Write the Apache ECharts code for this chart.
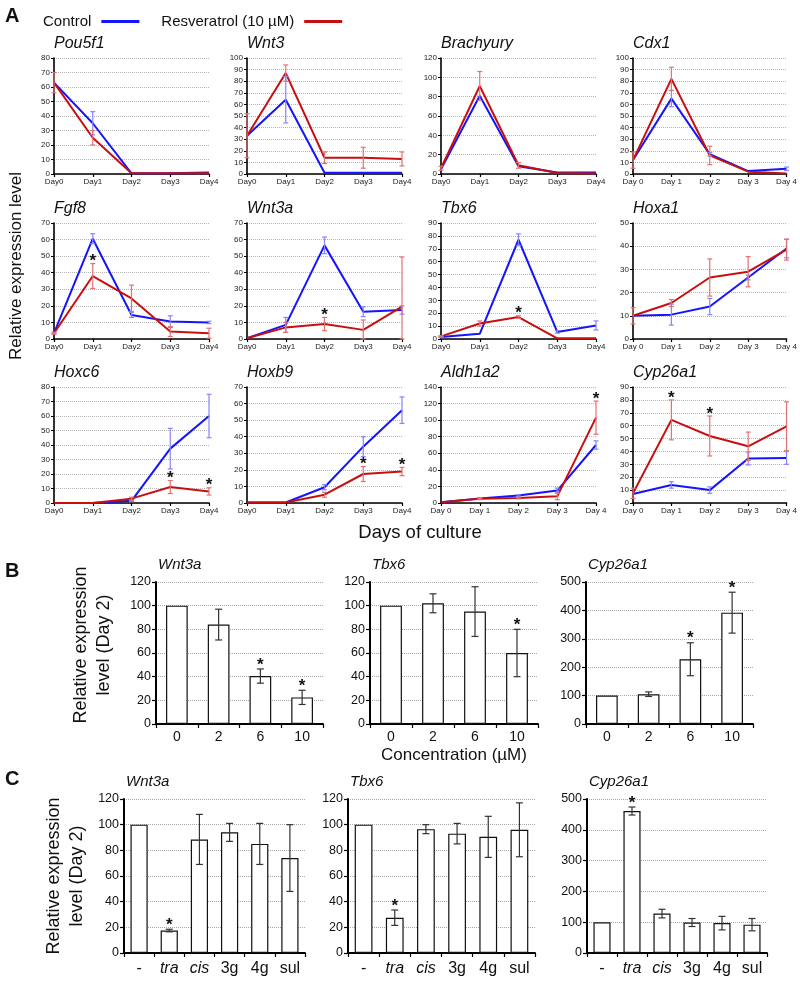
<!DOCTYPE html>
<html><head><meta charset="utf-8">
<script src="https://cdn.jsdelivr.net/npm/echarts@6/dist/echarts.min.js"></script>
<style>html,body{margin:0;padding:0;background:#fff}#c{width:800px;height:981px}</style>
</head><body><div id="c"></div>
<script>
const FONT = 'Liberation Sans, Arial, Helvetica, sans-serif';

// ---------- Panel A data ----------
const days = ['Day0', 'Day1', 'Day2', 'Day3', 'Day4'];
const daysSpaced = ['Day 0', 'Day 1', 'Day 2', 'Day 3', 'Day 4'];

const pou5f1Ctrl = [63, 35, 0.5, 0.5, 1];
const pou5f1CtrlErr = [0, 8, 0, 0, 0];
const pou5f1Res = [63, 25, 0.5, 0.5, 0.5];
const pou5f1ResErr = [7, 5, 0, 0, 0];
const pou5f1Stars = [];

const wnt3Ctrl = [33, 64, 1, 1, 1];
const wnt3CtrlErr = [0, 20, 0, 0, 0];
const wnt3Res = [33, 87, 14, 14, 13];
const wnt3ResErr = [19, 7, 5, 9, 6];
const wnt3Stars = [];

const brachyuryCtrl = [5, 81, 8, 1.5, 1.5];
const brachyuryCtrlErr = [0, 0, 0, 0, 0];
const brachyuryRes = [6, 91, 9, 1, 0.5];
const brachyuryResErr = [2, 15, 3, 0, 0];
const brachyuryStars = [];

const cdx1Ctrl = [12, 65, 17, 2.5, 4.5];
const cdx1CtrlErr = [0, 7, 1.5, 0, 1.5];
const cdx1Res = [12, 82, 16, 2, 0.5];
const cdx1ResErr = [7, 10, 8, 0, 0];
const cdx1Stars = [];

const fgf8Ctrl = [3.5, 60.5, 14.5, 10.5, 10];
const fgf8CtrlErr = [0.5, 3, 1.5, 3.5, 0.7];
const fgf8Res = [3.5, 38, 24.5, 4.5, 3.5];
const fgf8ResErr = [0.5, 7.5, 8, 3, 3];
const fgf8Stars = [1];

const wnt3aCtrl = [0.5, 8.5, 56.5, 16.5, 17.5];
const wnt3aCtrlErr = [0, 4.5, 5, 3, 2.5];
const wnt3aRes = [0.5, 7, 9, 5.5, 19.5];
const wnt3aResErr = [0, 3, 4, 6, 30];
const wnt3aStars = [2];

const tbx6Ctrl = [1.5, 4, 77, 5.5, 10.5];
const tbx6CtrlErr = [0.5, 0, 4.5, 1, 3.5];
const tbx6Res = [2, 12, 17, 0.5, 0.5];
const tbx6ResErr = [0.5, 2, 1, 0, 0];
const tbx6Stars = [2];

const hoxa1Ctrl = [10, 10.5, 14, 26.5, 39];
const hoxa1CtrlErr = [0, 4.5, 3.5, 1, 4];
const hoxa1Res = [10, 15.5, 26.5, 29, 38.5];
const hoxa1ResErr = [3.5, 1.5, 8, 6.5, 4.5];
const hoxa1Stars = [];

const hoxc6Ctrl = [0, 0, 1.5, 37.5, 60];
const hoxc6CtrlErr = [0, 0, 0.5, 14, 15];
const hoxc6Res = [0, 0, 3, 11, 8];
const hoxc6ResErr = [0, 0, 1, 4.5, 2.5];
const hoxc6Stars = [3, 4];

const hoxb9Ctrl = [0.3, 0.3, 9.5, 34, 56];
const hoxb9CtrlErr = [0, 0, 1.5, 6, 8];
const hoxb9Res = [0.3, 0.3, 5, 17.5, 19];
const hoxb9ResErr = [0, 0, 1.5, 4.5, 2.5];
const hoxb9Stars = [3, 4];

const aldh1a2Ctrl = [1, 5.5, 9, 15, 70];
const aldh1a2CtrlErr = [0, 1, 1, 3, 5];
const aldh1a2Res = [1, 5, 6, 8, 103];
const aldh1a2ResErr = [0, 1, 1, 4, 20];
const aldh1a2Stars = [4];

const cyp26a1Ctrl = [7, 14, 10, 34.5, 35];
const cyp26a1CtrlErr = [0, 2.5, 2.5, 5, 5];
const cyp26a1Res = [7.5, 64.5, 52, 44, 59.5];
const cyp26a1ResErr = [4, 15.5, 15.5, 11, 19];
const cyp26a1Stars = [1, 2];

// ---------- Panel B data ----------
const concentrations = ['0', '2', '6', '10'];
const bWnt3a = [100, 84, 40.5, 22.5];
const bWnt3aErr = [0, 13, 6, 6];
const bWnt3aStars = [2, 3];
const bTbx6 = [100, 102, 95, 60];
const bTbx6Err = [0, 8, 21, 20];
const bTbx6Stars = [3];
const bCyp26a1 = [100, 105, 228, 392];
const bCyp26a1Err = [0, 8, 58, 72];
const bCyp26a1Stars = [2, 3];

// ---------- Panel C data ----------
const compounds = ['-', 'tra', 'cis', '3g', '4g', 'sul'];
const italicCompounds = ['tra', 'cis'];
const cWnt3a = [100, 17.5, 88.5, 94, 85, 74];
const cWnt3aErr = [0, 1, 19.5, 7, 16, 26];
const cWnt3aStars = [1];
const cTbx6 = [100, 27.5, 96.5, 93, 90.5, 96];
const cTbx6Err = [0, 6, 3.5, 8, 16, 21];
const cTbx6Stars = [1];
const cCyp26a1 = [100, 461, 128, 99, 97, 92];
const cCyp26a1Err = [0, 13, 14, 13, 22, 20];
const cCyp26a1Stars = [1];

// ---------- building ----------
const BLUE = '#1414ff', RED = '#c80f0f', BLUE_E = '#8585ff', RED_E = '#e27272';
const grids = [], xAxes = [], yAxes = [], series = [], titles = [];

function errSeries(gi, vals, errs, color, capHalf, lw) {
  return {
    type: 'custom', xAxisIndex: gi, yAxisIndex: gi, silent: true, z: 4,
    data: vals.map((v, i) => [i, v, errs[i]]),
    renderItem: (params, api) => {
      const x = api.value(0), v = api.value(1), e = api.value(2);
      if (!e) return { type: 'group', children: [] };
      const t = api.coord([x, v + e]);
      const b = api.coord([x, Math.max(v - e, 0)]);
      const st = { stroke: color, lineWidth: lw };
      return { type: 'group', children: [
        { type: 'line', shape: { x1: t[0], y1: t[1], x2: b[0], y2: b[1] }, style: st },
        { type: 'line', shape: { x1: t[0] - capHalf, y1: t[1], x2: t[0] + capHalf, y2: t[1] }, style: st },
        { type: 'line', shape: { x1: b[0] - capHalf, y1: b[1], x2: b[0] + capHalf, y2: b[1] }, style: st }
      ]};
    }
  };
}

function starSeries(gi, idx, vals, errs, fontSize, gap) {
  return {
    type: 'custom', xAxisIndex: gi, yAxisIndex: gi, silent: true, z: 6,
    data: idx.map(i => [i, vals[i] + errs[i]]),
    renderItem: (params, api) => {
      const p = api.coord([api.value(0), api.value(1)]);
      return { type: 'text', x: p[0], y: p[1] - gap,
        style: { text: '*', fontSize: fontSize, fontFamily: FONT, fontWeight: 'bold', fill: '#111', align: 'center', verticalAlign: 'middle' } };
    }
  };
}

function addLinePanel(p) {
  const gi = grids.length;
  grids.push({ left: p.left, top: p.top, width: p.width, height: 116 });
  xAxes.push({
    type: 'category', gridIndex: gi, data: p.cats, boundaryGap: false,
    axisLine: { lineStyle: { color: '#000', width: 1.6 } },
    axisTick: { show: true, length: 3, interval: 0, lineStyle: { color: '#000', width: 1.2 } },
    axisLabel: { fontSize: 8, color: '#222', margin: 4, fontFamily: FONT, interval: 0 },
    splitLine: { show: false }
  });
  yAxes.push({
    type: 'value', gridIndex: gi, min: 0, max: p.max, interval: p.interval,
    axisLine: { show: true, lineStyle: { color: '#000', width: 1.6 } },
    axisTick: { show: true, length: 3, lineStyle: { color: '#000', width: 1 } },
    axisLabel: { fontSize: 8, color: '#222', margin: 4, fontFamily: FONT },
    splitLine: { show: true, lineStyle: { type: 'dotted', color: '#b4b4b4', width: 1 } }
  });
  titles.push({ text: p.title, left: p.left, top: p.top - 22, padding: 0,
    textStyle: { fontFamily: FONT, fontStyle: 'italic', fontWeight: 'normal', fontSize: 16, color: '#111' } });
  series.push({ type: 'line', name: 'Control', xAxisIndex: gi, yAxisIndex: gi, data: p.ctrl,
    symbol: 'none', lineStyle: { color: BLUE, width: 2 }, itemStyle: { color: BLUE }, z: 2, animation: false });
  series.push({ type: 'line', name: 'Resveratrol (10 µM)', xAxisIndex: gi, yAxisIndex: gi, data: p.res,
    symbol: 'none', lineStyle: { color: RED, width: 2 }, itemStyle: { color: RED }, z: 3, animation: false });
  series.push(errSeries(gi, p.ctrl, p.ctrlErr, BLUE_E, 2.5, 1.2));
  series.push(errSeries(gi, p.res, p.resErr, RED_E, 2.5, 1.2));
  if (p.stars.length) series.push(starSeries(gi, p.stars, p.res, p.resErr, 17, 2));
}

function addBarPanel(p) {
  const gi = grids.length;
  grids.push({ left: p.left, top: p.top, width: p.width, height: p.height });
  xAxes.push({
    type: 'category', gridIndex: gi, data: p.cats, boundaryGap: true,
    axisLine: { lineStyle: { color: '#000', width: 2 } },
    axisTick: { show: true, length: 4, interval: 0, lineStyle: { color: '#000', width: 1.2 } },
    axisLabel: {
      fontSize: p.labelSize, color: '#111', margin: p.labelMargin, fontFamily: FONT, interval: 0,
      formatter: v => italicCompounds.includes(v) ? '{i|' + v + '}' : v,
      rich: { i: { fontStyle: 'italic', fontSize: p.labelSize, fontFamily: FONT, color: '#111' } }
    },
    splitLine: { show: false }
  });
  yAxes.push({
    type: 'value', gridIndex: gi, min: 0, max: p.max, interval: p.interval,
    axisLine: { show: true, lineStyle: { color: '#000', width: 2 } },
    axisTick: { show: true, length: 4, lineStyle: { color: '#000', width: 1.2 } },
    axisLabel: { fontSize: 12.5, color: '#111', margin: 5, fontFamily: FONT },
    splitLine: { show: true, lineStyle: { type: 'dotted', color: '#a8a8a8', width: 1 } }
  });
  titles.push({ text: p.title, left: p.left + p.titleDx, top: p.top - 25, padding: 0,
    textStyle: { fontFamily: FONT, fontStyle: 'italic', fontWeight: 'normal', fontSize: 15, color: '#111' } });
  series.push({ type: 'bar', xAxisIndex: gi, yAxisIndex: gi, data: p.vals, barWidth: p.barWidth,
    itemStyle: { color: '#fff', borderColor: '#111', borderWidth: 1.2 }, z: 2, animation: false });
  series.push(errSeries(gi, p.vals, p.errs, '#333', 3.5, 1.2));
  if (p.stars.length) series.push(starSeries(gi, p.stars, p.vals, p.errs, 17, 4));
}

const colLeft = [54, 247, 441, 633];
const rowTop = [58, 223, 387];
const colW = 155;

[
  { title: 'Pou5f1', cats: days, max: 80, interval: 10, ctrl: pou5f1Ctrl, ctrlErr: pou5f1CtrlErr, res: pou5f1Res, resErr: pou5f1ResErr, stars: pou5f1Stars, r: 0, c: 0 },
  { title: 'Wnt3', cats: days, max: 100, interval: 10, ctrl: wnt3Ctrl, ctrlErr: wnt3CtrlErr, res: wnt3Res, resErr: wnt3ResErr, stars: wnt3Stars, r: 0, c: 1 },
  { title: 'Brachyury', cats: days, max: 120, interval: 20, ctrl: brachyuryCtrl, ctrlErr: brachyuryCtrlErr, res: brachyuryRes, resErr: brachyuryResErr, stars: brachyuryStars, r: 0, c: 2 },
  { title: 'Cdx1', cats: daysSpaced, max: 100, interval: 10, ctrl: cdx1Ctrl, ctrlErr: cdx1CtrlErr, res: cdx1Res, resErr: cdx1ResErr, stars: cdx1Stars, r: 0, c: 3 },
  { title: 'Fgf8', cats: days, max: 70, interval: 10, ctrl: fgf8Ctrl, ctrlErr: fgf8CtrlErr, res: fgf8Res, resErr: fgf8ResErr, stars: fgf8Stars, r: 1, c: 0 },
  { title: 'Wnt3a', cats: days, max: 70, interval: 10, ctrl: wnt3aCtrl, ctrlErr: wnt3aCtrlErr, res: wnt3aRes, resErr: wnt3aResErr, stars: wnt3aStars, r: 1, c: 1 },
  { title: 'Tbx6', cats: days, max: 90, interval: 10, ctrl: tbx6Ctrl, ctrlErr: tbx6CtrlErr, res: tbx6Res, resErr: tbx6ResErr, stars: tbx6Stars, r: 1, c: 2 },
  { title: 'Hoxa1', cats: daysSpaced, max: 50, interval: 10, ctrl: hoxa1Ctrl, ctrlErr: hoxa1CtrlErr, res: hoxa1Res, resErr: hoxa1ResErr, stars: hoxa1Stars, r: 1, c: 3 },
  { title: 'Hoxc6', cats: days, max: 80, interval: 10, ctrl: hoxc6Ctrl, ctrlErr: hoxc6CtrlErr, res: hoxc6Res, resErr: hoxc6ResErr, stars: hoxc6Stars, r: 2, c: 0 },
  { title: 'Hoxb9', cats: days, max: 70, interval: 10, ctrl: hoxb9Ctrl, ctrlErr: hoxb9CtrlErr, res: hoxb9Res, resErr: hoxb9ResErr, stars: hoxb9Stars, r: 2, c: 1 },
  { title: 'Aldh1a2', cats: daysSpaced, max: 140, interval: 20, ctrl: aldh1a2Ctrl, ctrlErr: aldh1a2CtrlErr, res: aldh1a2Res, resErr: aldh1a2ResErr, stars: aldh1a2Stars, r: 2, c: 2 },
  { title: 'Cyp26a1', cats: daysSpaced, max: 90, interval: 10, ctrl: cyp26a1Ctrl, ctrlErr: cyp26a1CtrlErr, res: cyp26a1Res, resErr: cyp26a1ResErr, stars: cyp26a1Stars, r: 2, c: 3 }
].forEach(p => addLinePanel(Object.assign(p, { left: colLeft[p.c], top: rowTop[p.r], width: colW })));

[
  { title: 'Wnt3a', vals: bWnt3a, errs: bWnt3aErr, stars: bWnt3aStars, max: 120, interval: 20, left: 156, width: 167 },
  { title: 'Tbx6', vals: bTbx6, errs: bTbx6Err, stars: bTbx6Stars, max: 120, interval: 20, left: 370, width: 168 },
  { title: 'Cyp26a1', vals: bCyp26a1, errs: bCyp26a1Err, stars: bCyp26a1Stars, max: 500, interval: 100, left: 586, width: 167 }
].forEach(p => addBarPanel(Object.assign(p, { cats: concentrations, top: 582, height: 142, barWidth: '52%', labelSize: 14, labelMargin: 6, titleDx: 2 })));

[
  { title: 'Wnt3a', vals: cWnt3a, errs: cWnt3aErr, stars: cWnt3aStars, max: 120, interval: 20, left: 124, width: 181 },
  { title: 'Tbx6', vals: cTbx6, errs: cTbx6Err, stars: cTbx6Stars, max: 120, interval: 20, left: 348, width: 187 },
  { title: 'Cyp26a1', vals: cCyp26a1, errs: cCyp26a1Err, stars: cCyp26a1Stars, max: 500, interval: 100, left: 587, width: 180 }
].forEach(p => addBarPanel(Object.assign(p, { cats: compounds, top: 799, height: 154, barWidth: '57%', labelSize: 16, labelMargin: 8, titleDx: 2 })));

const txt = (text, x, y, size, extra) => Object.assign({ type: 'text', x: x, y: y,
  style: Object.assign({ text: text, fontSize: size, fontFamily: FONT, fill: '#111', align: 'center', verticalAlign: 'middle' }, extra || {}) });

const graphics = [
  txt('A', 5, 16, 20, { fontWeight: 'bold', align: 'left' }),
  txt('B', 5, 571, 20, { fontWeight: 'bold', align: 'left' }),
  txt('C', 5, 779, 20, { fontWeight: 'bold', align: 'left' }),
  Object.assign(txt('Relative expression level', 16, 266, 17), { rotation: Math.PI / 2 }),
  txt('Days of culture', 420, 533, 18.5),
  txt('Concentration (µM)', 454, 755, 17),
  Object.assign(txt('Relative expression\nlevel (Day 2)', 93, 645, 18, { lineHeight: 23 }), { rotation: Math.PI / 2 }),
  Object.assign(txt('Relative expression\nlevel (Day 2)', 66, 876, 18, { lineHeight: 23 }), { rotation: Math.PI / 2 })
];

const chart = echarts.init(document.getElementById('c'));
chart.setOption({
  animation: false,
  backgroundColor: '#fff',
  title: titles,
  legend: {
    data: ['Control', 'Resveratrol (10 µM)'], left: 38, top: 9, align: 'right',
    itemWidth: 38, itemHeight: 3, itemGap: 22, icon: 'rect',
    textStyle: { fontSize: 15, fontFamily: FONT, color: '#111', padding: [0, 5, 0, 0] },
    selectedMode: false
  },
  grid: grids, xAxis: xAxes, yAxis: yAxes, series: series, graphic: graphics
});
</script></body></html>
